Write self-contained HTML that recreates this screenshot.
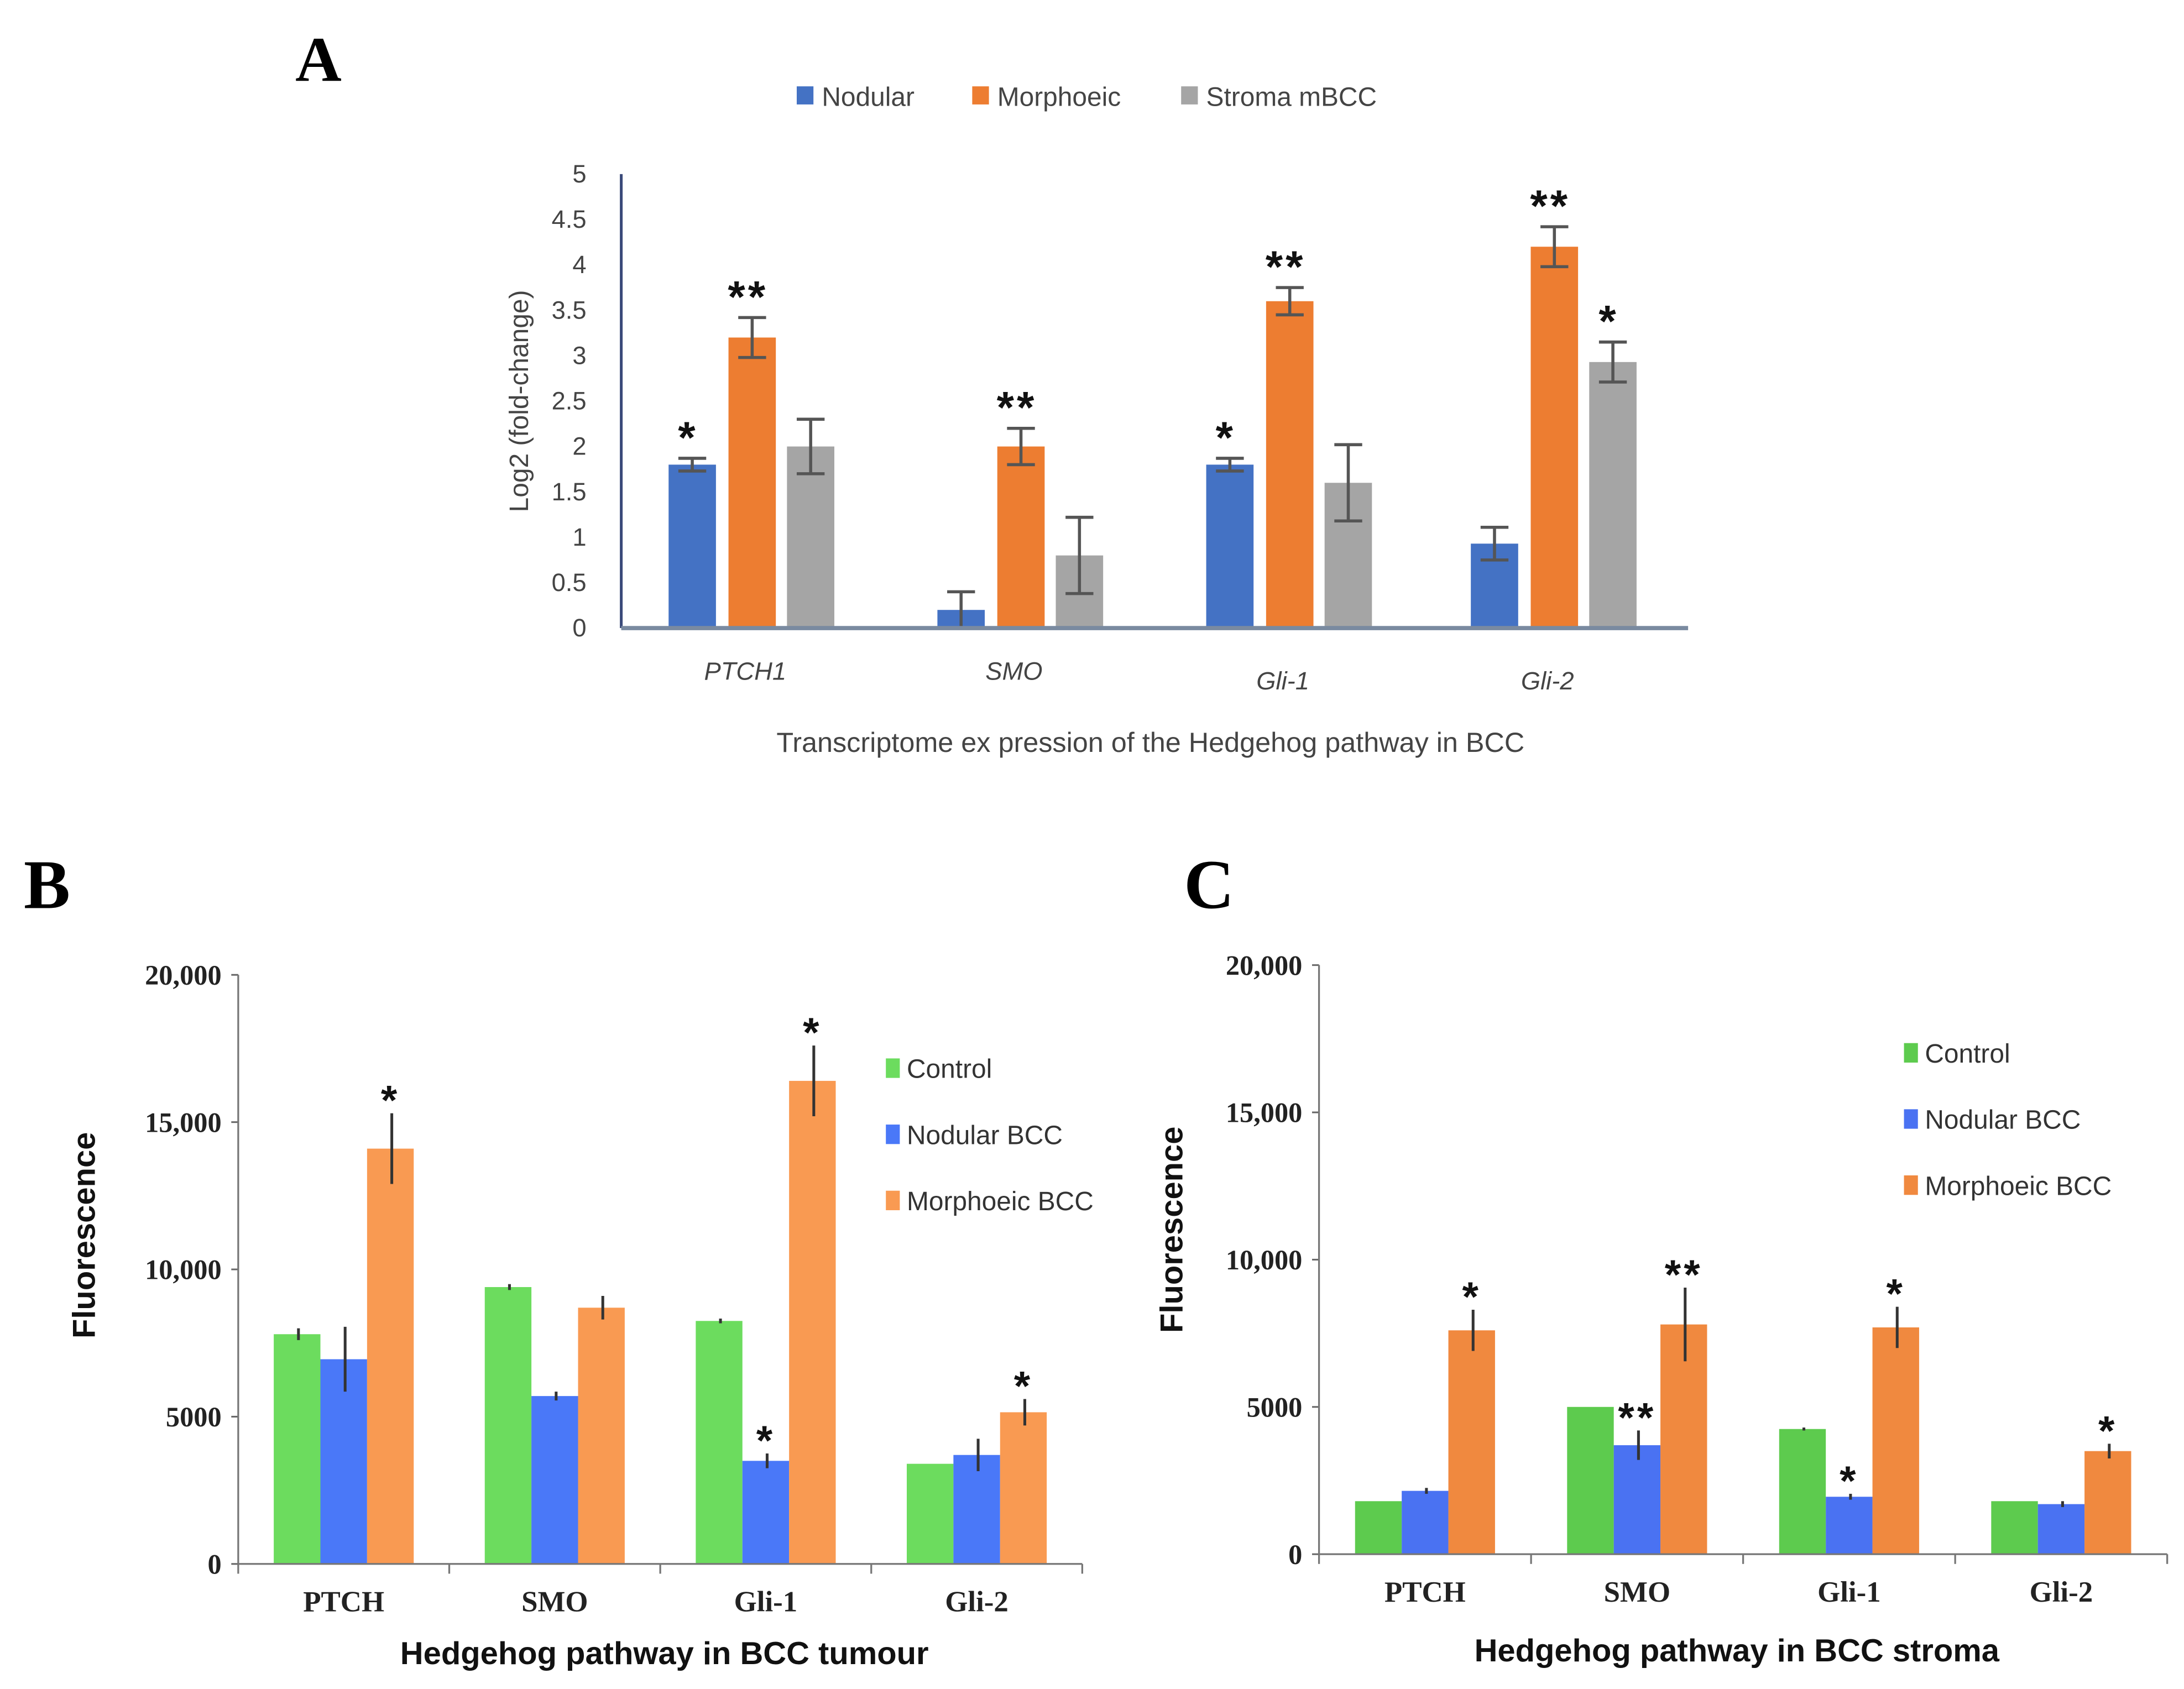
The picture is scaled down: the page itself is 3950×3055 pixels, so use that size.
<!DOCTYPE html>
<html><head><meta charset="utf-8"><style>
html,body{margin:0;padding:0;background:#fff;}
svg{display:block;}
</style></head><body>
<svg id="fig" xmlns="http://www.w3.org/2000/svg" width="3950" height="3055" viewBox="0 0 1568 1212.8">
<rect width="1568" height="1212.8" fill="#fff"/>
<g id="panelA"></g>
<g id="panelB"></g>
<g id="panelC"></g>
</svg>
<script>
// ---------- Panel A data ----------
const catsA = ["PTCH1","SMO","Gli-1","Gli-2"];
const seriesNamesA = ["Nodular","Morphoeic","Stroma mBCC"];
const nodularA = [1.8, 0.2, 1.8, 0.93];
const nodularErrA = [0.07, 0.2, 0.07, 0.18];
const morphA = [3.2, 2.0, 3.6, 4.2];
const morphErrA = [0.22, 0.2, 0.15, 0.22];
const stromaA = [2.0, 0.8, 1.6, 2.93];
const stromaErrA = [0.3, 0.42, 0.42, 0.22];
const starsA = [["*","**",""],["","**",""],["*","**",""],["","**","*"]];
const ticksA = [0,0.5,1,1.5,2,2.5,3,3.5,4,4.5,5];
const tickLabelsA = ["0","0.5","1","1.5","2","2.5","3","3.5","4","4.5","5"];

// ---------- Panel B data ----------
const catsB = ["PTCH","SMO","Gli-1","Gli-2"];
const seriesNamesBC = ["Control","Nodular  BCC","Morphoeic  BCC"];
const controlB = [7800, 9400, 8250, 3400];
const controlErrB = [200, 100, 80, 0];
const nodularB = [6950, 5700, 3500, 3700];
const nodularErrB = [1100, 150, 250, 550];
const morphB = [14100, 8700, 16400, 5150];
const morphErrB = [1200, 400, 1200, 450];
const starsB = [["","","*"],["","",""],["","*","*"],["","","*"]];

// ---------- Panel C data ----------
const catsC = ["PTCH","SMO","Gli-1","Gli-2"];
const controlC = [1800, 5000, 4250, 1800];
const controlErrC = [0, 0, 50, 0];
const nodularC = [2150, 3700, 1950, 1700];
const nodularErrC = [100, 500, 100, 100];
const morphC = [7600, 7800, 7700, 3500];
const morphErrC = [700, 1250, 700, 250];
const starsC = [["","","*"],["","**","**"],["","*","*"],["","","*"]];

const ticksBC = [0,5000,10000,15000,20000];
const tickLabelsBC = ["0","5000","10,000","15,000","20,000"];

const NS = "http://www.w3.org/2000/svg";
function mk(parent, tag, attrs, text){
  const e = document.createElementNS(NS, tag);
  for (const k in attrs) e.setAttribute(k, attrs[k]);
  if (text !== undefined) e.textContent = text;
  parent.appendChild(e);
  return e;
}

// ================= Panel A =================
(function(){
  const g = document.getElementById('panelA');
  const x0 = 446, x1 = 1212, yZero = 451, yTop = 125, vmax = 5;
  const y = v => yZero - (yZero - yTop) * v / vmax;
  const centers = [540, 733, 926, 1116];
  const xCat = i => centers[i];
  const offs = [-43, 0, 42], bw = 34;
  const colors = ["#4472C4","#ED7D31","#A5A5A5"];
  const vals = [nodularA, morphA, stromaA];
  const errs = [nodularErrA, morphErrA, stromaErrA];
  const ff = '"Liberation Sans", "DejaVu Sans", sans-serif';

  let t = mk(g,'text',{x:212,y:58,'font-family':'"Liberation Serif", serif','font-weight':'bold','font-size':46,fill:'#000'},'A');
   

  const legX = [572, 698, 848];
  seriesNamesA.forEach((n,k)=>{
    const r = mk(g,'rect',{x:legX[k],y:62,width:12,height:13,fill:colors[k]});
     
    const tt = mk(g,'text',{x:legX[k]+18,y:76,'font-family':ff,'font-size':19,fill:'#444'},n);
     
  });

  ticksA.forEach((v,i)=>{
    const tt = mk(g,'text',{x:421,y:y(v)+6,'text-anchor':'end','font-family':ff,'font-size':18,fill:'#444'},tickLabelsA[i]);
     
  });
  const ya = mk(g,'line',{x1:x0,y1:yTop,x2:x0,y2:yZero,stroke:'#3a4a7a','stroke-width':2});
   

  const yt = mk(g,'text',{x:0,y:0,transform:'translate(379,288) rotate(-90)','text-anchor':'middle','font-family':ff,'font-size':19,fill:'#444'},'Log2 (fold-change)');
   

  catsA.forEach((c,i)=>{
    vals.forEach((arr,k)=>{
      const cx = xCat(i)+offs[k];
      const r = mk(g,'rect',{x:cx-bw/2,y:y(arr[i]),width:bw,height:yZero-y(arr[i]),fill:colors[k]});
       
      const e = errs[k][i], yt1 = y(arr[i]+e), yb = y(Math.max(0,arr[i]-e));
      const eg = mk(g,'path',{d:`M${cx},${yt1}V${yb}M${cx-10},${yt1}H${cx+10}M${cx-10},${yb}H${cx+10}`,stroke:'#555','stroke-width':2.2,fill:'none'});
       
      const s = starsA[i][k];
      if (s){
        const st = mk(g,'text',{x:cx-3,y:yt1-4,'text-anchor':'middle','font-family':ff,'font-weight':'bold','font-size':32,fill:'#111','letter-spacing':2},s);
         
      }
    });
    const lt = mk(g,'text',{x:xCat(i)-5,y:i>=2?495:488,'text-anchor':'middle','font-family':ff,'font-style':'italic','font-size':18,fill:'#444'},c);
     
  });
  const xa = mk(g,'line',{x1:x0,y1:yZero,x2:x1,y2:yZero,stroke:'#7a8aa0','stroke-width':3});
   

  const xt = mk(g,'text',{x:826,y:540,'text-anchor':'middle','font-family':ff,'font-size':20,fill:'#444'},'Transcriptome  ex pression  of the  Hedgehog  pathway  in BCC');
   
})();

// ================= Panels B, C =================
function drawBC(gid, opt, cats, vals, errs, stars){
  const g = document.getElementById(gid);
  const {x0,x1,yZero,yTop,letter,letterX,letterY,legX,legY,ytX,ytY,xtX,xtY,xTitle,catY,colors,nm} = opt;
  const vmax = 20000;
  const y = v => yZero - (yZero - yTop) * v / vmax;
  const cw = (x1-x0)/cats.length;
  const xCat = i => x0 + cw*(i+0.5);
  const bw = 33.5, offs = [-33.5,0,33.5];
  const serif = '"Liberation Serif", serif';
  const sans = '"Liberation Sans", "DejaVu Sans", sans-serif';

  let t = mk(g,'text',{x:letterX,y:letterY,'font-family':serif,'font-weight':'bold','font-size':50,fill:'#000'},letter);
   

  ticksBC.forEach((v,i)=>{
    const tt = mk(g,'text',{x:x0-12,y:y(v)+7,'text-anchor':'end','font-family':serif,'font-weight':'bold','font-size':20,fill:'#222'},tickLabelsBC[i]);
     
    const tk = mk(g,'line',{x1:x0-5,y1:y(v),x2:x0,y2:y(v),stroke:'#666','stroke-width':1.2});
     
  });
  const ya = mk(g,'line',{x1:x0,y1:yTop,x2:x0,y2:yZero,stroke:'#777','stroke-width':1.3});
   

  const yt = mk(g,'text',{x:0,y:0,transform:`translate(${ytX},${ytY}) rotate(-90)`,'text-anchor':'middle','font-family':sans,'font-weight':'bold','font-size':23,fill:'#111'},'Fluorescence');
   

  seriesNamesBC.forEach((n,k)=>{
    const r = mk(g,'rect',{x:legX,y:legY+k*47.5-8,width:10,height:14,fill:colors[k]});
     
    const tt = mk(g,'text',{x:legX+15,y:legY+k*47.5+6,'font-family':sans,'font-size':19,fill:'#333'},n);
     
  });

  cats.forEach((c,i)=>{
    vals.forEach((arr,k)=>{
      const cx = xCat(i)+offs[k];
      const r = mk(g,'rect',{x:cx-bw/2,y:y(arr[i]),width:bw,height:yZero-y(arr[i]),fill:colors[k]});
       
      const e = errs[k][i];
      if (e>0){
        const el = mk(g,'line',{x1:cx+1,y1:y(arr[i]+e),x2:cx+1,y2:y(arr[i]-e),stroke:'#333','stroke-width':2});
         
      }
      const s = stars[i][k];
      if (s){
        const st = mk(g,'text',{x:cx,y:y(arr[i]+e)+1,'text-anchor':'middle','font-family':sans,'font-weight':'bold','font-size':30,fill:'#111','letter-spacing':2},s);
         
      }
    });
    const lt = mk(g,'text',{x:xCat(i),y:catY,'text-anchor':'middle','font-family':serif,'font-weight':'bold','font-size':21,fill:'#222'},c);
     
  });
  const xa = mk(g,'line',{x1:x0,y1:yZero,x2:x1,y2:yZero,stroke:'#777','stroke-width':1.3});
   
  for (let i=0;i<=cats.length;i++){
    const tk = mk(g,'line',{x1:x0+cw*i,y1:yZero,x2:x0+cw*i,y2:yZero+7,stroke:'#777','stroke-width':1.3});
     
  }
  const xt = mk(g,'text',{x:xtX,y:xtY,'text-anchor':'middle','font-family':sans,'font-weight':'bold','font-size':23,fill:'#111'},xTitle);
   
}

drawBC('panelB',{x0:171,x1:777,yZero:1123,yTop:700,letter:'B',letterX:17,letterY:652,legX:636,legY:768,ytX:68,ytY:887,xtX:477,xtY:1195,xTitle:'Hedgehog pathway in BCC tumour',catY:1157,colors:['#6CDC5E','#4A78F8','#F99A52'],nm:'b'},
  catsB,[controlB,nodularB,morphB],[controlErrB,nodularErrB,morphErrB],starsB);
drawBC('panelC',{x0:947,x1:1556,yZero:1116,yTop:693,letter:'C',letterX:850,letterY:652,legX:1367,legY:757,ytX:849,ytY:883,xtX:1247,xtY:1193,xTitle:'Hedgehog pathway in BCC stroma',catY:1150,colors:['#5DCB4E','#4A72F2','#F0893F'],nm:'c'},
  catsC,[controlC,nodularC,morphC],[controlErrC,nodularErrC,morphErrC],starsC);
</script>
</body></html>
